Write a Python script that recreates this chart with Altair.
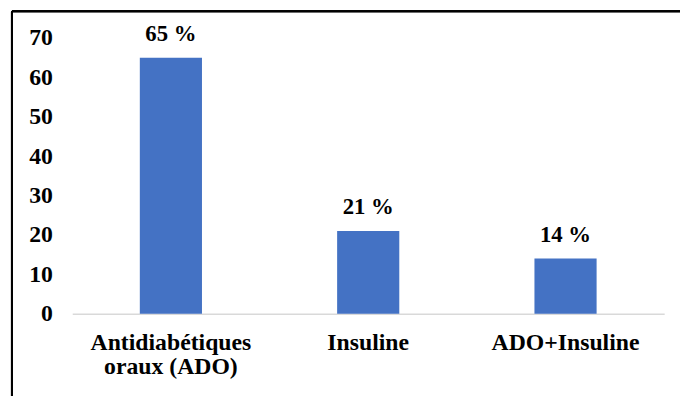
import altair as alt
import pandas as pd

categories = ["Antidiabétiques\noraux (ADO)", "Insuline", "ADO+Insuline"]
values = [65, 21, 14]
labels = ["65 %", "21 %", "14 %"]
y_ticks = [0, 10, 20, 30, 40, 50, 60, 70]

df = pd.DataFrame({"cat": categories, "val": values, "lab": labels})

FONT = "Liberation Serif, Times New Roman, serif"
FS = 24

x_enc = alt.X(
    "cat:N", sort=categories, title=None,
    scale=alt.Scale(paddingInner=0.685, paddingOuter=0.3425),
    axis=alt.Axis(labelAngle=0, ticks=False, domainColor="#d9d9d9", domainWidth=1.5,
                  labelPadding=17, labelLineHeight=25, labelExpr="split(datum.value, '\\n')"),
)
y_enc = alt.Y(
    "val:Q", title=None,
    scale=alt.Scale(domain=[0, 70], nice=False),
    axis=alt.Axis(values=y_ticks, ticks=False, domain=False, grid=False,
                  labelPadding=20, labelOverlap=False),
)

bars = alt.Chart(df).mark_bar(color="#4472C4").encode(x=x_enc, y=y_enc)
text = alt.Chart(df).mark_text(font=FONT, fontSize=FS - 1, fontWeight="bold", color="black",
                               baseline="alphabetic", dy=-17).encode(
    x=x_enc, y=y_enc, text="lab:N")

frame_top = alt.Chart(df).mark_rule(color="black", strokeWidth=2, clip=False).encode(
    x=alt.value(-61), x2=alt.value(640), y=alt.value(-27))
frame_left = alt.Chart(df).mark_rule(color="black", strokeWidth=2, clip=False).encode(
    x=alt.value(-61), y=alt.value(-27), y2=alt.value(400))

chart = alt.layer(bars, text, frame_top, frame_left).properties(
    width=599, height=279,
    autosize=alt.AutoSizeParams(type="none"),
    padding={"left": 65, "top": 28, "right": 16, "bottom": 90},
).configure_view(stroke=None).configure_axis(
    labelFont=FONT, labelFontSize=FS, labelFontWeight="bold", labelColor="black",
    labelOverlap=False,
).configure_text(font=FONT)

chart.save("out.html", embed_options={"renderer": "svg", "actions": False})
